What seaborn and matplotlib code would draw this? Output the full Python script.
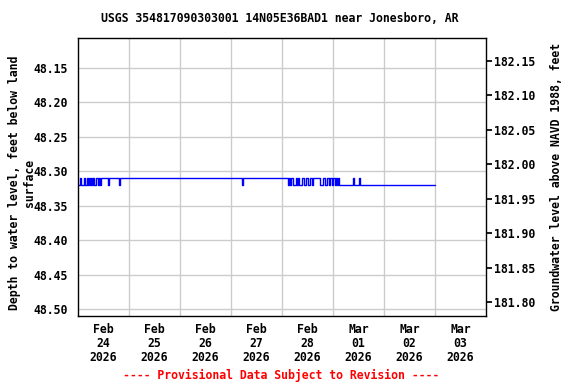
import matplotlib
matplotlib.use("Agg")
import matplotlib.pyplot as plt
import seaborn as sns
import pandas as pd

# ---- data ----
title = "USGS 354817090303001 14N05E36BAD1 near Jonesboro, AR"
start = "2026-02-24 00:00"
# change points: hours after start, depth to water (ft below land surface)
hours = [0.0, 1.0, 1.4, 2.8, 3.3, 4.2, 4.7, 5.2, 5.6, 6.1, 6.6, 7.1, 7.5, 8.5,
         9.4, 9.9, 10.4, 10.8, 14.1, 14.6, 19.3, 19.8, 77.2, 77.7,
         98.8, 99.3, 99.8, 100.3, 101.2, 102.6, 103.1, 103.5, 104.0, 105.4,
         106.4, 107.3, 108.2, 109.2, 110.1, 110.6, 113.9, 115.3, 116.2, 117.2,
         118.1, 118.6, 119.5, 120.0, 120.9, 121.4, 121.9, 122.3, 122.8,
         129.4, 129.9, 132.2, 132.7, 168.0]
depth = [48.32, 48.31, 48.32, 48.31, 48.32, 48.31, 48.32, 48.31, 48.32, 48.31, 48.32, 48.31, 48.32, 48.31,
         48.32, 48.31, 48.32, 48.31, 48.32, 48.31, 48.32, 48.31, 48.32, 48.31,
         48.32, 48.31, 48.32, 48.31, 48.32, 48.31, 48.32, 48.31, 48.32, 48.31,
         48.32, 48.31, 48.32, 48.31, 48.32, 48.31, 48.32, 48.31, 48.32, 48.31,
         48.32, 48.31, 48.32, 48.31, 48.32, 48.31, 48.32, 48.31, 48.32,
         48.31, 48.32, 48.31, 48.32, 48.32]
datum = 230.29  # land surface elevation, NAVD 1988
left_ticks = [48.15, 48.20, 48.25, 48.30, 48.35, 48.40, 48.45, 48.50]
right_ticks = [182.15, 182.10, 182.05, 182.00, 181.95, 181.90, 181.85, 181.80]
day_labels = ["Feb\n24\n2026", "Feb\n25\n2026", "Feb\n26\n2026", "Feb\n27\n2026",
              "Feb\n28\n2026", "Mar\n01\n2026", "Mar\n02\n2026", "Mar\n03\n2026"]

df = pd.DataFrame({
    "time": pd.Timestamp(start) + pd.to_timedelta(hours, unit="h"),
    "depth": depth,
})

sns.set_theme(style="white")
plt.rcParams["font.family"] = ["DejaVu Sans Mono"]
plt.rcParams["font.weight"] = "bold"
plt.rcParams["text.color"] = "black"
plt.rcParams["xtick.color"] = "black"
plt.rcParams["ytick.color"] = "black"
plt.rcParams["axes.labelcolor"] = "black"
fs = 8.3

fig = plt.figure(figsize=(5.76, 3.84), dpi=100)
ax = fig.add_axes([78/576, 1-316/384, (486-78)/576, (316-38)/384])

sns.lineplot(data=df, x="time", y="depth", ax=ax, color="#0000ff",
             linewidth=1.0, drawstyle="steps-post", estimator=None)

t0 = pd.Timestamp(start)
ax.set_xlim(t0, t0 + pd.Timedelta(days=8))
ax.set_ylim(48.5097, 48.107)

# gridlines at midnight, labels at noon
midn = [t0 + pd.Timedelta(days=i) for i in range(1, 8)]
noon = [t0 + pd.Timedelta(days=i, hours=12) for i in range(8)]
ax.set_xticks(midn)
ax.set_xticklabels([""] * len(midn))
ax.set_xticks(noon, minor=True)
ax.set_xticklabels(day_labels, minor=True, fontsize=fs, fontweight="bold", linespacing=1.1)
ax.tick_params(axis="x", which="major", length=3, direction="in", color="#999999")
ax.tick_params(axis="x", which="minor", length=0, pad=5)
ax.set_yticks(left_ticks)
ax.set_yticklabels([f"{v:.2f}" for v in left_ticks], fontsize=fs, fontweight="bold")
ax.tick_params(axis="y", length=0, pad=7)
ax.grid(True, which="major", color="#cccccc", linewidth=1.0)
ax.set_xlabel("")
ax.set_ylabel("")
for s in ax.spines.values():
    s.set_color("black")
    s.set_linewidth(1.0)

ax2 = ax.twinx()
lo, hi = ax.get_ylim()
ax2.set_ylim(datum - lo, datum - hi)
ax2.set_yticks(right_ticks)
ax2.set_yticklabels([f"{v:.2f}" for v in right_ticks], fontsize=fs, fontweight="bold")
ax2.tick_params(axis="y", length=4, direction="out", pad=2, color="black")
ax2.set_ylabel("")
ax2.grid(False)
for s in ax2.spines.values():
    s.set_visible(False)

fig.text(22/576, 1-183/384, "Depth to water level, feet below land\nsurface",
         ha="center", va="center", rotation=90, fontsize=fs, fontweight="bold",
         linespacing=1.1, multialignment="center")
fig.text(557/576, 1-177/384, "Groundwater level above NAVD 1988, feet",
         ha="center", va="center", rotation=90, fontsize=fs, fontweight="bold")
fig.text(280/576, 1-19/384, title, ha="center", va="center", fontsize=fs, fontweight="bold")
fig.text(281/576, 1-375/384, "---- Provisional Data Subject to Revision ----",
         ha="center", va="center", fontsize=fs, fontweight="bold", color="red")

fig.savefig("out.png", dpi=100)
